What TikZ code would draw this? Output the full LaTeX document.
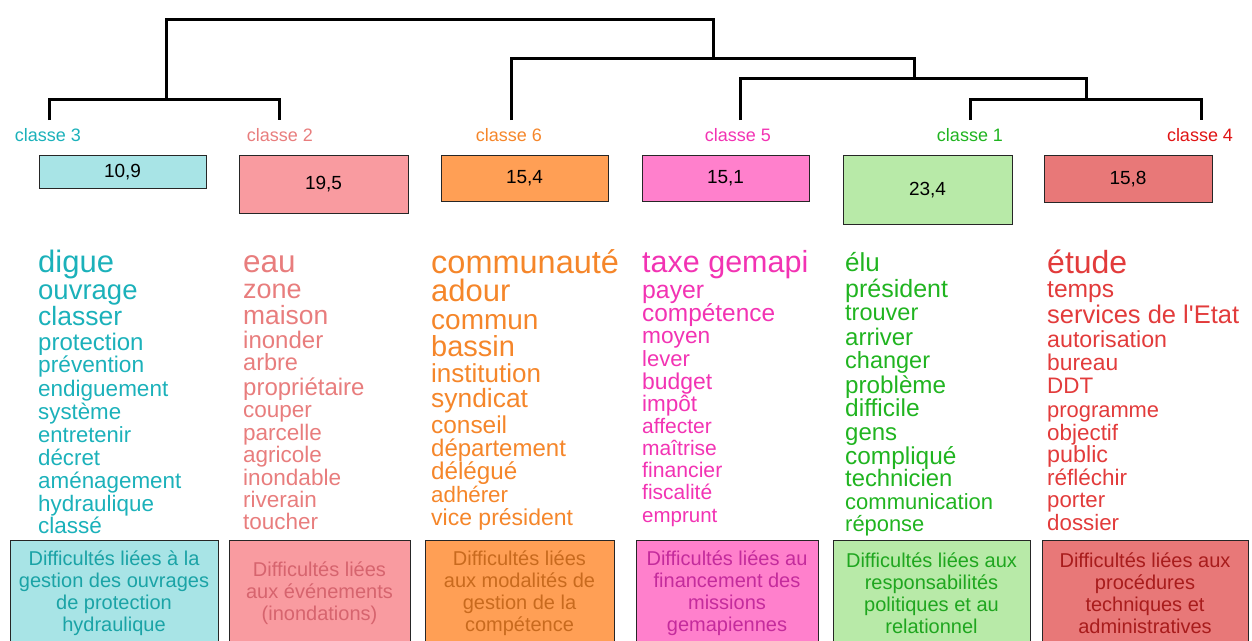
\documentclass[tikz,border=0pt]{standalone}
\usepackage{fontspec}
\setmainfont{Liberation Sans}
\usetikzlibrary{positioning}

% class colours: label/word text, box fill, box caption
\definecolor{cthree}{HTML}{1BB1BA}
\definecolor{ctwo}{HTML}{E87D7D}
\definecolor{csix}{HTML}{F5862A}
\definecolor{cfive}{HTML}{F233B3}
\definecolor{cone}{HTML}{20B420}
\definecolor{cfour}{HTML}{E23B3B}
\definecolor{lfour}{HTML}{E01414}
\definecolor{fthree}{HTML}{A8E4E6}
\definecolor{ftwo}{HTML}{F99BA0}
\definecolor{fsix}{HTML}{FF9F55}
\definecolor{ffive}{HTML}{FF80CC}
\definecolor{fone}{HTML}{B8EAA8}
\definecolor{ffour}{HTML}{E87878}
\definecolor{tthree}{HTML}{1AA3A6}
\definecolor{ttwo}{HTML}{D6646E}
\definecolor{tsix}{HTML}{C86A1E}
\definecolor{tfive}{HTML}{C42B9C}
\definecolor{tone}{HTML}{1FA61F}
\definecolor{tfour}{HTML}{A81C1C}

\begin{document}
\begin{tikzpicture}[
  x=1pt, y=-1pt,
  tree/.style={line width=3pt, black},
  clslab/.style={text=#1, font=\fontsize{18}{18}\selectfont, inner sep=0pt},
  pct/.style={draw=black!85, line width=1pt, fill=#1, anchor=north,
              font=\fontsize{19}{19}\selectfont, inner sep=0pt},
  word/.style={text=#1, inner sep=0pt, anchor=base west},
  dfc/.style={draw=black!85, line width=1pt, fill=#1, anchor=north,
              align=center, inner sep=0pt, minimum height=106pt,
              font=\fontsize{20}{22}\selectfont},
]
\useasboundingbox (0,0) rectangle (1252,640);

%% ===== DENDROGRAM =====

\coordinate (l3) at (49,120);
\coordinate (l2) at (279,120);
\coordinate (l6) at (511,120);
\coordinate (l5) at (740,120);
\coordinate (l1) at (970,120);
\coordinate (l4) at (1201,120);

\coordinate (m32)   at (166,99);
\coordinate (m14)   at (1086,99);
\coordinate (m514)  at (914,78);
\coordinate (m6514) at (713,58);
\coordinate (root)  at (440,19);

\draw[tree] (l3) |- (m32) -| (l2);
\draw[tree] (l1) |- (m14) -| (l4);
\draw[tree] (l5) |- (m514) -| (m14);
\draw[tree] (l6) |- (m6514) -| (m514);
\draw[tree] (m32) |- (root) -| (m6514);

%% ===== CLASS LABELS & PERCENTAGES =====

\node[clslab=cthree] (k3) at (48,135)   {classe 3};
\node[clslab=ctwo]   (k2) at (280,135)  {classe 2};
\node[clslab=csix]   (k6) at (509,135)  {classe 6};
\node[clslab=cfive]  (k5) at (738,135)  {classe 5};
\node[clslab=cone]   (k1) at (970,135)  {classe 1};
\node[clslab=lfour]  (k4) at (1200,135) {classe 4};

\node[pct=fthree, minimum width=167pt, minimum height=33pt] (p3) at (122.5,155) {10,9};
\node[pct=ftwo,   minimum width=169pt, minimum height=58pt] (p2) at (323.5,155) {19,5};
\node[pct=fsix,   minimum width=167pt, minimum height=46pt] (p6) at (524.5,155) {15,4};
\node[pct=ffive,  minimum width=167pt, minimum height=46pt] (p5) at (725.5,155) {15,1};
\node[pct=fone,   minimum width=169pt, minimum height=69pt] (p1) at (927.5,155) {23,4};
\node[pct=ffour,  minimum width=168pt, minimum height=47pt] (p4) at (1128,155)  {15,8};

%% ===== WORD LISTS (word/size/y) =====

\foreach \w/\s/\y in {digue/31/262, ouvrage/27.5/290, classer/26.5/316,
    protection/24/341, prévention/22.7/364, endiguement/22.5/388,
    système/22.3/411, entretenir/22/434, décret/22.3/457,
    aménagement/22.4/480, hydraulique/22.4/503, classé/22.5/525}
  \node[word=cthree, font=\fontsize{\s}{\s}\selectfont] (c3w\y) at (38,{\y+3+0.25*\s}) {\w};

\foreach \w/\s/\y in {eau/31.5/262, zone/27/289, maison/26.4/315,
    inonder/24/339, arbre/23.5/362, propriétaire/24/386, couper/22.5/409,
    parcelle/22.5/432, agricole/22.5/454, inondable/22.6/477,
    riverain/22.5/499, toucher/22.5/521}
  \node[word=ctwo, font=\fontsize{\s}{\s}\selectfont] (c2w\y) at (243,{\y+3+0.25*\s}) {\w};

\foreach \w/\s/\y in {communauté/32.5/262, adour/31/291, commun/28/319,
    bassin/29/346, institution/26/373, syndicat/26.4/398, conseil/24.4/424,
    département/24/447, délégué/24.2/470, adhérer/22.3/494,
    vice président/23/517}
  \node[word=csix, font=\fontsize{\s}{\s}\selectfont] (c6w\y) at (431,{\y+3+0.25*\s}) {\w};

\foreach \w/\s/\y in {taxe gemapi/30.5/262, payer/24.8/289,
    compétence/24.4/312, moyen/22.7/335, lever/22/358, budget/22.9/381,
    impôt/22.5/403, affecter/21/425, maîtrise/21/447, financier/21.2/469,
    fiscalité/21/491, emprunt/20.5/514}
  \node[word=cfive, font=\fontsize{\s}{\s}\selectfont] (c5w\y) at (642,{\y+3+0.25*\s}) {\w};

\foreach \w/\s/\y in {élu/26/262, président/25/288, trouver/23.5/312,
    arriver/24/336, changer/23.5/360, problème/24.2/384, difficile/24.5/407,
    gens/24/431, compliqué/24.4/455, technicien/23.8/478,
    communication/22/501, réponse/21.9/523}
  \node[word=cone, font=\fontsize{\s}{\s}\selectfont] (c1w\y) at (845,{\y+3+0.25*\s}) {\w};

\foreach \w/\s/\y in {étude/32/262, temps/24.6/288,
    services de l\textquotesingle Etat/25.5/314, autorisation/23.2/339,
    bureau/22.8/362, DDT/22.4/385, programme/21.9/409, objectif/22.4/432,
    public/23.3/454, réfléchir/22.5/477, porter/22.2/499, dossier/22.3/522}
  \node[word=cfour, font=\fontsize{\s}{\s}\selectfont] (c4w\y) at (1047,{\y+3+0.25*\s}) {\w};

%% ===== DIFFICULTY BOXES =====

\node[dfc=fthree, text=tthree, minimum width=208pt] (d3) at (114,540)
    {Difficultés liées à la\\gestion des ouvrages\\de protection\\hydraulique};
\node[dfc=ftwo, text=ttwo, minimum width=181pt] (d2) at (319.5,540)
    {Difficultés liées\\aux événements\\(inondations)};
\node[dfc=fsix, text=tsix, minimum width=189pt] (d6) at (519.5,540)
    {Difficultés liées\\aux modalités de\\gestion de la\\compétence};
\node[dfc=ffive, text=tfive, minimum width=182pt] (d5) at (727,540)
    {Difficultés liées au\\financement des\\missions\\gemapiennes};
\node[dfc=fone, text=tone, minimum width=197pt] (d1) at (931.5,540)
    {Difficultés liées aux\\responsabilités\\politiques et au\\relationnel};
\node[dfc=ffour, text=tfour, minimum width=206pt] (d4) at (1145,540)
    {Difficultés liées aux\\procédures\\techniques et\\administratives};

\end{tikzpicture}
\end{document}
